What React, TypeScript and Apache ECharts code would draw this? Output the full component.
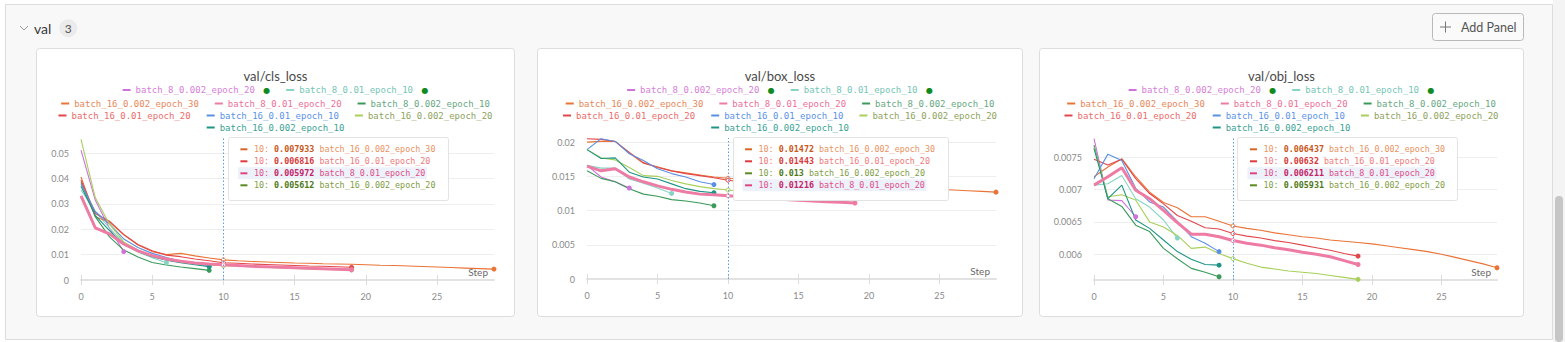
import React, { useEffect, useRef } from "react";
import * as echarts from "echarts";

const W = 1565;
const H = 342;

// ---- runs ----
const SERIES_NAMES = [
  "batch_8_0.002_epoch_20",
  "batch_8_0.01_epoch_10",
  "batch_16_0.002_epoch_30",
  "batch_8_0.01_epoch_20",
  "batch_8_0.002_epoch_10",
  "batch_16_0.01_epoch_20",
  "batch_16_0.01_epoch_10",
  "batch_16_0.002_epoch_20",
  "batch_16_0.002_epoch_10",
];
const LINE_COLORS = ["#cf72d9", "#86d4c4", "#ea7336", "#ee7ba3", "#3a9a5a", "#e2474a", "#5a90e4", "#a8d05a", "#1e9484"];
const LEGEND_TEXT_COLORS = ["#d580d8", "#74c6b6", "#e8875a", "#ec6f98", "#67a882", "#ec6b6b", "#5b92e8", "#8ea35e", "#3c9f94"];
const TIP_DASH = ["#cf72d9", "#86d4c4", "#d9652b", "#e0467e", "#3a9a5a", "#e0393e", "#5a90e4", "#5c8a23", "#1e9484"];
const TIP_LIGHT = ["#d580d8", "#74c6b6", "#e8925f", "#df4f88", "#67a882", "#ef7a7a", "#5b92e8", "#7f9c45", "#3c9f94"];
const TIP_BOLD = ["#b050b8", "#3a9a8a", "#c8581c", "#c42568", "#2a7a4a", "#d63a3a", "#3a70c4", "#4f7a1a", "#157a6c"];
const RUNNING_RUNS = ["batch_8_0.002_epoch_20", "batch_8_0.01_epoch_10"];
const LEGEND_ROWS = [[0, 1], [2, 3, 4], [5, 6, 7], [8]];
const DRAW_ORDER = [0, 1, 2, 4, 5, 6, 7, 8, 3];
const HIGHLIGHT_RUN = 3;
const TOOLTIP_RUNS = [2, 5, 3, 7];
const HOVER_STEP = 10;
const X_MAX = 29;
const X_TICKS = [0, 5, 10, 15, 20, 25];

// ---- val/cls_loss (index = run above, position = step) ----
const CLS_LOSS: number[][] = [
  [0.0512, 0.0315, 0.0204, 0.0112],
  [0.0355, 0.027, 0.0205, 0.0145, 0.011, 0.0088, 0.0068],
  [0.0406, 0.0249, 0.0228, 0.0178, 0.0138, 0.0112, 0.01, 0.0105, 0.0095, 0.0087, 0.007933, 0.0076, 0.0073, 0.0071, 0.0069, 0.0067, 0.0066, 0.0064, 0.0063, 0.0062, 0.006, 0.0058, 0.0057, 0.0055, 0.0053, 0.0051, 0.0049, 0.0047, 0.0045, 0.0043],
  [0.0332, 0.0206, 0.0182, 0.0142, 0.0115, 0.0096, 0.0083, 0.0074, 0.0067, 0.0063, 0.005972, 0.0057, 0.0054, 0.0052, 0.005, 0.0048, 0.0046, 0.0044, 0.0042, 0.004],
  [0.0385, 0.025, 0.017, 0.0118, 0.0091, 0.0069, 0.0059, 0.0051, 0.0045, 0.0038],
  [0.0393, 0.0262, 0.0232, 0.018, 0.014, 0.0115, 0.0098, 0.0092, 0.0083, 0.0076, 0.006816, 0.0066, 0.0063, 0.0061, 0.0059, 0.0057, 0.0055, 0.0054, 0.0052, 0.005],
  [0.038, 0.027, 0.022, 0.0162, 0.0128, 0.0105, 0.0089, 0.0074, 0.0064, 0.0055],
  [0.0555, 0.0325, 0.022, 0.015, 0.0118, 0.0095, 0.008, 0.007, 0.0064, 0.0059, 0.005612, 0.0054, 0.0052, 0.005, 0.0048, 0.0046, 0.0044, 0.0042, 0.0041, 0.004],
  [0.037, 0.0255, 0.0195, 0.014, 0.0112, 0.0092, 0.0078, 0.0068, 0.006, 0.0052],
];

// ---- val/box_loss ----
const BOX_LOSS: number[][] = [
  [0.0166, 0.0149, 0.0142, 0.0133],
  [0.0166, 0.0162, 0.0162, 0.0146, 0.014, 0.0133, 0.0125],
  [0.02, 0.0201, 0.0201, 0.0184, 0.0169, 0.0164, 0.0158, 0.0155, 0.0152, 0.0149, 0.01472, 0.0146, 0.0145, 0.0143, 0.0142, 0.0141, 0.0139, 0.0138, 0.0137, 0.0136, 0.0135, 0.0134, 0.0133, 0.0133, 0.0132, 0.0131, 0.013, 0.0129, 0.0128, 0.01269],
  [0.0165, 0.0158, 0.0161, 0.0149, 0.0142, 0.0136, 0.0131, 0.0127, 0.0124, 0.0123, 0.01216, 0.012, 0.0118, 0.0117, 0.0116, 0.0115, 0.0114, 0.0113, 0.0112, 0.0111],
  [0.0158, 0.0147, 0.0142, 0.0132, 0.0124, 0.0121, 0.0116, 0.0114, 0.0111, 0.0107],
  [0.0205, 0.0204, 0.0201, 0.0185, 0.017, 0.0163, 0.0158, 0.0154, 0.0151, 0.0148, 0.01443, 0.0142, 0.014, 0.0138, 0.0137, 0.0135, 0.0134, 0.0133, 0.0132, 0.0131],
  [0.0189, 0.0205, 0.0201, 0.0183, 0.0173, 0.0161, 0.0154, 0.0149, 0.0142, 0.0138],
  [0.0189, 0.0177, 0.0174, 0.0163, 0.0151, 0.015, 0.0144, 0.0139, 0.0135, 0.0132, 0.013, 0.0128, 0.0127, 0.0125, 0.0124, 0.0123, 0.0122, 0.0121, 0.012, 0.0119],
  [0.0189, 0.0176, 0.0177, 0.0156, 0.0149, 0.0146, 0.0139, 0.0132, 0.0128, 0.0126],
];

// ---- val/obj_loss ----
const OBJ_LOSS: number[][] = [
  [0.00779, 0.00684, 0.00683, 0.00658],
  [0.00707, 0.00709, 0.00722, 0.00686, 0.00673, 0.00653, 0.00625],
  [0.0072, 0.00735, 0.00748, 0.0072, 0.00696, 0.0068, 0.00672, 0.00658, 0.00658, 0.00651, 0.006437, 0.0064, 0.00637, 0.00633, 0.0063, 0.00627, 0.00625, 0.00622, 0.0062, 0.00618, 0.00616, 0.00613, 0.0061, 0.00607, 0.00604, 0.006, 0.00595, 0.0059, 0.00585, 0.00579],
  [0.00707, 0.0072, 0.00734, 0.00699, 0.00686, 0.00668, 0.00649, 0.00631, 0.00631, 0.00627, 0.006211, 0.00617, 0.00614, 0.0061, 0.00607, 0.00603, 0.006, 0.00596, 0.0059, 0.00584],
  [0.00769, 0.00686, 0.00674, 0.00645, 0.00635, 0.00609, 0.00593, 0.00578, 0.00572, 0.00565],
  [0.00747, 0.00738, 0.00747, 0.00717, 0.00694, 0.00678, 0.0066, 0.00651, 0.00641, 0.00639, 0.00632, 0.00628, 0.00625, 0.00621, 0.00618, 0.00614, 0.0061, 0.00606, 0.00601, 0.00597],
  [0.00717, 0.00755, 0.00745, 0.00702, 0.00681, 0.00673, 0.00651, 0.00627, 0.00617, 0.00604],
  [0.00766, 0.00689, 0.00692, 0.00684, 0.0065, 0.00642, 0.00629, 0.00609, 0.00611, 0.00601, 0.005931, 0.00586, 0.0058, 0.00577, 0.00574, 0.00572, 0.0057, 0.00567, 0.00564, 0.00561],
  [0.00764, 0.00686, 0.00707, 0.00653, 0.0064, 0.00622, 0.00604, 0.00592, 0.00584, 0.00583],
];

type PanelCfg = {
  title: string;
  data: number[][];
  x: number;
  y: number;
  w: number;
  h: number;
  grid: { left: number; right: number; top: number; bottom: number };
  yMin: number;
  yMax: number;
  yInterval?: number;
};

const PANELS: PanelCfg[] = [
  { title: "val/cls_loss", data: CLS_LOSS, x: 36, y: 48, w: 479, h: 269, grid: { left: 45, right: 21, top: 90.5, bottom: 37 }, yMin: 0, yMax: 0.0558, yInterval: 0.01 },
  { title: "val/box_loss", data: BOX_LOSS, x: 537, y: 48, w: 486, h: 269, grid: { left: 50, right: 27, top: 90, bottom: 38 }, yMin: 0, yMax: 0.0206, yInterval: 0.005 },
  { title: "val/obj_loss", data: OBJ_LOSS, x: 1039, y: 48, w: 485, h: 269, grid: { left: 55, right: 27, top: 90, bottom: 37 }, yMin: 0.0056, yMax: 0.0078 },
];

const LEGEND_TOPS = [37.5, 51, 63, 75];
const MONO = "DejaVu Sans Mono";
const AXIS_LABEL = { color: "#8a8a8a", fontSize: 9, fontFamily: "Lato" };

function buildOption(cfg: PanelCfg): any {
  const series = DRAW_ORDER.map((i) => {
    const vals = cfg.data[i];
    return {
      type: "line",
      name: SERIES_NAMES[i],
      data: vals.map((v, s) => {
        if (s === vals.length - 1) return { value: [s, v], symbol: "circle", symbolSize: 5 };
        if (s === HOVER_STEP)
          return {
            value: [s, v],
            symbol: "circle",
            symbolSize: 4,
            itemStyle: { color: "#ffffff", borderColor: LINE_COLORS[i], borderWidth: 1 },
          };
        return { value: [s, v] };
      }),
      symbol: "none",
      showSymbol: true,
      silent: true,
      lineStyle: { color: LINE_COLORS[i], width: i === HIGHLIGHT_RUN ? 3 : 1.1 },
      itemStyle: { color: LINE_COLORS[i], borderWidth: 0 },
      emphasis: { disabled: true },
      z: i === HIGHLIGHT_RUN ? 4 : 2,
    };
  });

  // hover guide at the hovered step
  series.push({
    type: "line",
    name: "hover",
    data: [],
    silent: true,
    z: 1,
    markLine: {
      silent: true,
      symbol: ["none", "none"],
      label: { show: false },
      lineStyle: { color: "#5b9be8", type: [1.5, 2], width: 1, opacity: 1 },
      data: [{ xAxis: HOVER_STEP }],
    },
  } as any);

  const legends = LEGEND_ROWS.map((row, r) => ({
    data: row.map((i) => ({ name: SERIES_NAMES[i], textStyle: { color: LEGEND_TEXT_COLORS[i] }, itemStyle: { color: LINE_COLORS[i] } })),
    top: LEGEND_TOPS[r],
    left: "center",
    orient: "horizontal",
    padding: 0,
    itemWidth: 8,
    itemHeight: 2,
    itemGap: 16,
    icon: "rect",
    selectedMode: false,
    textStyle: {
      fontFamily: MONO,
      fontSize: 9,
      rich: { d: { color: "#0f8a1e", fontSize: 8, fontFamily: "DejaVu Sans", padding: [0, 0, 0, 3] } },
    },
    formatter: (name: string) => (RUNNING_RUNS.includes(name) ? `${name} {d|●}` : name),
  }));

  const tickStyle = { color: "#dcdcdc", width: 1 };

  return {
    animation: false,
    backgroundColor: "transparent",
    title: {
      text: cfg.title,
      left: "center",
      top: 21,
      padding: 0,
      textStyle: { fontSize: 13, fontWeight: "normal", color: "#4a4a4a", fontFamily: "Lato" },
    },
    legend: legends,
    grid: { ...cfg.grid, containLabel: false, outerBoundsMode: "none" },
    xAxis: [
      {
        type: "value",
        min: 0,
        max: X_MAX,
        interval: 5,
        axisLine: { show: true, onZero: false, lineStyle: { color: "#e2e2e2", width: 2 } },
        axisTick: { show: true, inside: true, length: 5, lineStyle: tickStyle, customValues: X_TICKS },
        axisLabel: { ...AXIS_LABEL, margin: 12, showMaxLabel: false },
        splitLine: { show: false },
      },
      {
        type: "value",
        min: 0,
        max: X_MAX,
        interval: 5,
        position: "bottom",
        axisLine: { show: false, onZero: false },
        axisTick: { show: true, inside: false, length: 5, lineStyle: tickStyle, customValues: X_TICKS },
        axisLabel: { show: false },
        splitLine: { show: false },
      },
    ],
    yAxis: {
      type: "value",
      min: cfg.yMin,
      max: cfg.yMax,
      interval: cfg.yInterval,
      splitNumber: 5,
      axisLine: { show: false },
      axisTick: { show: false },
      axisLabel: { ...AXIS_LABEL, margin: 12, showMinLabel: cfg.yMin === 0, showMaxLabel: false },
      splitLine: { show: true, lineStyle: { color: "#eeeeee", width: 1 }, showMinLine: false, showMaxLine: false },
    },
    series,
  };
}

function buildOverlay(cfg: PanelCfg, hoverX: number, endX: number, baseY: number): any[] {
  const fs = 8.4;
  const cw = fs * 0.602;
  const boxX = hoverX + 4.5;
  const boxY = 89;
  const dashX = boxX + 12.5;
  const textX = boxX + 26;
  const rows = TOOLTIP_RUNS.map((i) => ({ i, v: cfg.data[i][HOVER_STEP] })).sort((a, b) => b.v - a.v);
  const lens = rows.map((r) => `${HOVER_STEP}: ${r.v} ${SERIES_NAMES[r.i]}`.length);
  const maxW = Math.max(...lens) * cw;
  const boxW = textX - boxX + maxW + 12;
  const els: any[] = [
    {
      type: "rect",
      z: 100,
      shape: { x: Math.round(boxX) + 0.5, y: boxY + 0.5, width: Math.round(boxW), height: 63, r: 2 },
      style: { fill: "#ffffff", stroke: "#e3e3e3", lineWidth: 1 },
    },
  ];
  rows.forEach((r, k) => {
    const cy = boxY + 12.3 + 12 * k;
    if (r.i === HIGHLIGHT_RUN) {
      els.push({
        type: "rect",
        z: 101,
        shape: { x: dashX - 2.5, y: cy - 6, width: textX + lens[k] * cw - (dashX - 2.5) + 1, height: 12 },
        style: { fill: "#edf1fa" },
      });
    }
    els.push({
      type: "rect",
      z: 102,
      shape: { x: dashX, y: cy - 1, width: 7, height: 2 },
      style: { fill: TIP_DASH[r.i] },
    });
    els.push({
      type: "text",
      z: 102,
      style: {
        x: textX,
        y: cy,
        text: `{a|${HOVER_STEP}: }{b|${r.v}}{a| ${SERIES_NAMES[r.i]}}`,
        verticalAlign: "middle",
        textVerticalAlign: "middle",
        rich: {
          a: { fill: TIP_LIGHT[r.i], fontSize: fs, fontFamily: MONO },
          b: { fill: TIP_BOLD[r.i], fontSize: fs, fontFamily: MONO, fontWeight: "bold" },
        },
      },
    });
  });
  els.push({
    type: "text",
    z: 50,
    style: {
      x: endX - 6,
      y: baseY - 8,
      text: "Step",
      align: "right",
      textAlign: "right",
      verticalAlign: "middle",
      textVerticalAlign: "middle",
      fill: "#6a6a6a",
      font: "10px Lato",
    },
  });
  return els;
}

function Panel({ cfg }: { cfg: PanelCfg }) {
  const ref = useRef<HTMLDivElement>(null);
  useEffect(() => {
    const chart = echarts.init(ref.current!, null, { renderer: "svg" });
    chart.setOption(buildOption(cfg));
    const hoverX = chart.convertToPixel({ xAxisIndex: 0 }, HOVER_STEP) as number;
    const endX = chart.convertToPixel({ xAxisIndex: 0 }, X_MAX) as number;
    const baseY = chart.convertToPixel({ yAxisIndex: 0 }, cfg.yMin) as number;
    chart.setOption({ graphic: buildOverlay(cfg, hoverX, endX, baseY) });
    return () => chart.dispose();
  }, []);
  return <div ref={ref} style={{ position: "absolute", left: cfg.x, top: cfg.y, width: cfg.w, height: cfg.h }} />;
}

function buildChrome(): any[] {
  const els: any[] = [
    { type: "rect", shape: { x: 0, y: 0, width: W, height: H }, style: { fill: "#ffffff" } },
    { type: "rect", shape: { x: 5.5, y: 4.5, width: 1547, height: 335 }, style: { fill: "#f8f8f8", stroke: "#dcdcdc", lineWidth: 1 } },
    { type: "polyline", shape: { points: [[20, 26], [24, 30], [28, 26]] }, style: { stroke: "#9a9a9a", lineWidth: 1, fill: "none" } },
    { type: "text", style: { x: 34, y: 28.5, text: "val", font: "14px Lato", fill: "#3a3a3a", verticalAlign: "middle", textVerticalAlign: "middle" } },
    { type: "circle", shape: { cx: 68.3, cy: 28.3, r: 9 }, style: { fill: "#ebebeb" } },
    { type: "text", style: { x: 68.3, y: 28.5, text: "3", font: "12px Lato", fill: "#555555", align: "center", textAlign: "center", verticalAlign: "middle", textVerticalAlign: "middle" } },
    { type: "rect", shape: { x: 1432.5, y: 13.5, width: 91, height: 27, r: 3 }, style: { fill: "#fafafa", stroke: "#b9b9b9", lineWidth: 1 } },
    { type: "line", shape: { x1: 1440, y1: 27, x2: 1451, y2: 27 }, style: { stroke: "#777777", lineWidth: 1 } },
    { type: "line", shape: { x1: 1445.5, y1: 21.5, x2: 1445.5, y2: 32.5 }, style: { stroke: "#777777", lineWidth: 1 } },
    { type: "text", style: { x: 1461, y: 27, text: "Add Panel", font: "12.5px Lato", fill: "#555555", verticalAlign: "middle", textVerticalAlign: "middle" } },
    { type: "rect", shape: { x: 1553, y: 0, width: 12, height: H }, style: { fill: "#f4f4f4" } },
    { type: "rect", shape: { x: 1555, y: 196, width: 8, height: 146, r: 4 }, style: { fill: "#c6c6c6" } },
  ];
  PANELS.forEach((p) => {
    els.push({
      type: "rect",
      shape: { x: p.x + 0.5, y: p.y + 0.5, width: p.w - 1, height: p.h - 1, r: 3 },
      style: { fill: "#ffffff", stroke: "#dddddd", lineWidth: 1 },
    });
  });
  return els;
}

export default function App() {
  const bgRef = useRef<HTMLDivElement>(null);
  useEffect(() => {
    const c = echarts.init(bgRef.current!, null, { renderer: "svg" });
    c.setOption({ animation: false, graphic: buildChrome() });
    return () => c.dispose();
  }, []);
  return (
    <div style={{ position: "fixed", left: 0, top: 0, width: W, height: H, overflow: "hidden", background: "#ffffff" }}>
      <div ref={bgRef} style={{ position: "absolute", left: 0, top: 0, width: W, height: H }} />
      {PANELS.map((p, k) => (
        <Panel key={k} cfg={p} />
      ))}
    </div>
  );
}
